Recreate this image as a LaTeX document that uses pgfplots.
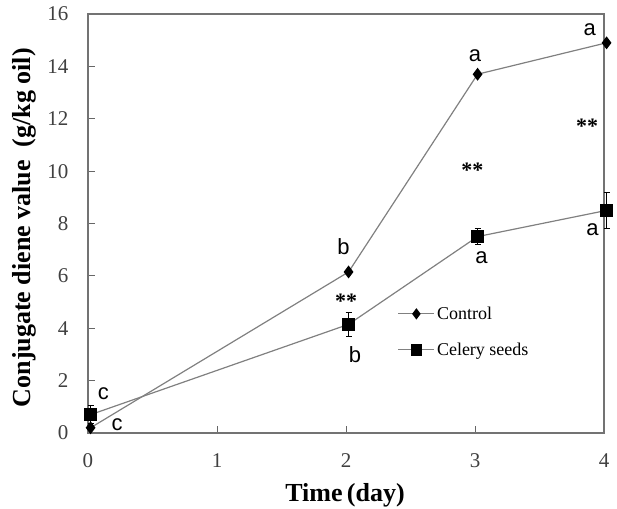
\documentclass[border=0pt]{standalone}
\usepackage{fontspec}
\setmainfont{Liberation Serif}
\setsansfont{Liberation Sans}
\usepackage{pgfplots}
\pgfplotsset{compat=1.18}
\definecolor{linegray}{RGB}{128,128,128}
\begin{document}
\begin{tikzpicture}
\begin{axis}[
    scale only axis,
    width=516pt, height=419pt,
    xmin=0, xmax=4, ymin=0, ymax=16,
    xtick={0,1,2,3,4},
    ytick={0,2,4,6,8,10,12,14,16},
    xtick pos=bottom, ytick pos=left,
    tick align=inside,
    major tick length=7pt,
    tick style={draw=black!60, line width=1pt},
    axis line style={draw=black!55, line width=1.6pt},
    clip=false,
    /pgf/number format/assume math mode=true,
    tick label style={font=\fontsize{21}{21}\selectfont, text=black!75},
    xticklabel shift={17pt},
    yticklabel shift={16pt},
    xlabel={\textbf{Time\,(day)}},
    ylabel={\textbf{Conjugate diene value\ \ (g/kg oil)}},
    xlabel style={font=\fontsize{26}{26}\selectfont, at={(axis description cs:0.498,-0.148)}, anchor=center},
    ylabel style={font=\fontsize{26}{26}\selectfont, at={(axis description cs:-0.124,0.49)}, anchor=center},
    legend style={at={(axis cs:2.40,4.90)}, anchor=north west, draw=none, fill=none,
        font=\fontsize{18}{18}\selectfont, row sep=18pt, cells={anchor=west},
        inner sep=0pt},
    legend image code/.code={
        \draw[mark repeat=2, mark phase=2, #1, /tikz/every mark/.append style={scale=0.85}]
            plot coordinates {(0pt,0pt) (18pt,0pt) (36pt,0pt)};
    },
]
    % Control
    \addplot[linegray, line width=1.2pt, mark=diamond*, mark size=5.5pt,
        mark options={black, solid}] coordinates {
        (0.02,0.20) (2.02,6.15) (3.02,13.70) (4.02,14.90)
    };
    \addlegendentry{Control}

    % Celery seeds
    \addplot[linegray, line width=1.2pt, mark=square*, mark size=6pt,
        mark options={black, solid},
        error bars/.cd, y dir=both, y explicit,
        error bar style={black, line width=0.8pt},
        error mark options={black, rotate=90, mark size=3pt, line width=0.8pt}] coordinates {
        (0.02,0.70) +- (0,0.35)
        (2.02,4.15) +- (0,0.45)
        (3.02,7.50) +- (0,0.30)
        (4.02,8.50) +- (0,0.70)
    };
    \addlegendentry{Celery seeds}

    % letters
    \begin{scope}[every node/.style={font=\sffamily\fontsize{22}{22}\selectfont}]
        \node at (axis cs:0.12,1.49) {c};
        \node at (axis cs:0.225,0.31) {c};
        \node at (axis cs:1.98,7.10) {b};
        \node at (axis cs:2.07,3.00) {b};
        \node at (axis cs:3.00,14.40) {a};
        \node at (axis cs:3.05,6.68) {a};
        \node at (axis cs:3.89,15.40) {a};
        \node at (axis cs:3.91,7.75) {a};
    \end{scope}
    \begin{scope}[every node/.style={font=\bfseries\fontsize{22}{22}\selectfont}]
        \node at (axis cs:2.00,5.05) {**};
        \node at (axis cs:2.98,10.05) {**};
        \node at (axis cs:3.87,11.70) {**};
    \end{scope}
\end{axis}
\pgfresetboundingbox
\path (-88pt,-75pt) rectangle (529pt,433pt);
\end{tikzpicture}
\end{document}
